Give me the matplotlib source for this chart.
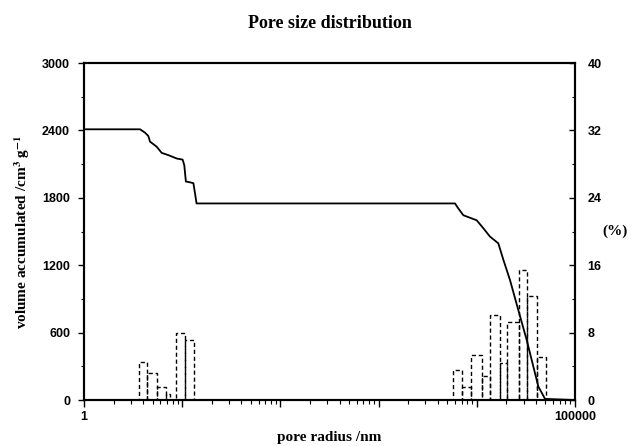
import matplotlib.pyplot as plt
import matplotlib.ticker as mticker
import numpy as np

plt.rcParams['mathtext.fontset'] = 'stix'

# cumulative pore volume curve (pore radius in nm, volume)
radius = [1, 3.72, 4.18, 4.52, 4.70, 5.50, 6.18, 7.23, 8.79, 10.1, 10.5, 10.9, 12.0, 13.0, 13.5, 14.0,
          6000, 6490, 7290, 9980, 11640, 13610, 16560, 18620, 21780, 26490, 32210, 37670, 42360, 49550, 100000]
volume = [2410, 2410, 2380, 2350, 2300, 2255, 2200, 2180, 2150, 2140, 2090, 1945, 1938, 1930, 1840, 1750,
          1750, 1705, 1645, 1600, 1530, 1455, 1395, 1250, 1068, 800, 535, 297, 120, 10, 0]

# distribution histogram (%), bin edges in nm
bin_lo = [3.6, 4.4, 5.6, 6.8, 8.6, 10.7, 5700, 7000, 8700, 11200, 13600, 17200, 20300, 26900, 32400, 41000]
bin_hi = [4.4, 5.6, 6.8, 7.5, 10.7, 13.2, 7000, 8700, 11200, 13600, 17200, 20300, 26900, 32400, 41000, 50700]
pct = [4.5, 3.2, 1.6, 0.7, 8.0, 7.1, 3.6, 1.6, 5.3, 2.8, 10.1, 4.4, 9.3, 15.4, 12.3, 5.1]

vol_ticks = [0, 600, 1200, 1800, 2400, 3000]
pct_ticks = [0, 8, 16, 24, 32, 40]

serif = 'Liberation Serif'
sans = 'Liberation Sans'

fig = plt.figure(figsize=(6.35, 4.46), dpi=100)
ax = fig.add_axes([0.1323, 0.1031, 0.7732, 0.7556])
ax2 = ax.twinx()

ax.plot(radius, volume, color='black', lw=1.3)
widths = np.array(bin_hi) - np.array(bin_lo)
ax2.bar(bin_lo, pct, width=widths, align='edge', fill=False, edgecolor='black',
        linestyle=(0, (3, 2)), lw=1.0)

ax.set_xscale('log')
ax.set_xlim(1, 100000)
ax.set_ylim(0, 3000)
ax2.set_ylim(0, 40)

ax.set_yticks(vol_ticks)
ax.yaxis.set_minor_locator(mticker.MultipleLocator(300))
ax2.set_yticks(pct_ticks)
ax2.yaxis.set_minor_locator(mticker.MultipleLocator(4))

ax.xaxis.set_major_locator(mticker.LogLocator(base=10, numticks=10))
ax.xaxis.set_minor_locator(mticker.LogLocator(base=10, subs=np.arange(2, 10), numticks=20))
ax.xaxis.set_minor_formatter(mticker.NullFormatter())
ax.xaxis.set_major_formatter(mticker.FuncFormatter(
    lambda v, p: '1' if abs(v - 1) < 1e-9 else ('100000' if abs(v - 1e5) < 1 else '')))

ax.tick_params(axis='x', which='major', direction='out', length=5, width=1, pad=3)
ax.tick_params(axis='x', which='minor', direction='out', length=3, width=0.8)
ax.tick_params(axis='y', which='major', direction='out', length=4, width=1, pad=6)
ax.tick_params(axis='y', which='minor', direction='out', length=2.5, width=0.8)
ax2.tick_params(axis='y', which='major', direction='in', length=4, width=1, pad=9)
ax2.tick_params(axis='y', which='minor', direction='in', length=2.5, width=0.8)

for a in (ax, ax2):
    for lab in a.get_xticklabels() + a.get_yticklabels():
        lab.set_fontfamily(sans)
        lab.set_fontweight('bold')
        lab.set_fontsize(9)
    for s in a.spines.values():
        s.set_linewidth(1.5)

ax.set_title('Pore size distribution', fontfamily=serif, fontweight='bold', fontsize=13, pad=25)
ax.set_xlabel('pore radius /nm', fontfamily=serif, fontweight='bold', fontsize=11, labelpad=6)
ax.set_ylabel(r'volume accumulated /cm$^{\mathbf{3}}$ g$^{\mathbf{-1}}$', fontfamily=serif,
              fontweight='bold', fontsize=11)
ax.yaxis.set_label_coords(-0.105, 0.5)
ax2.set_ylabel('(%)', fontfamily=serif, fontweight='bold', fontsize=11, rotation=0,
               ha='center', va='center')
ax2.yaxis.set_label_coords(1.081, 0.50)

fig.savefig('out.png', dpi=100)
